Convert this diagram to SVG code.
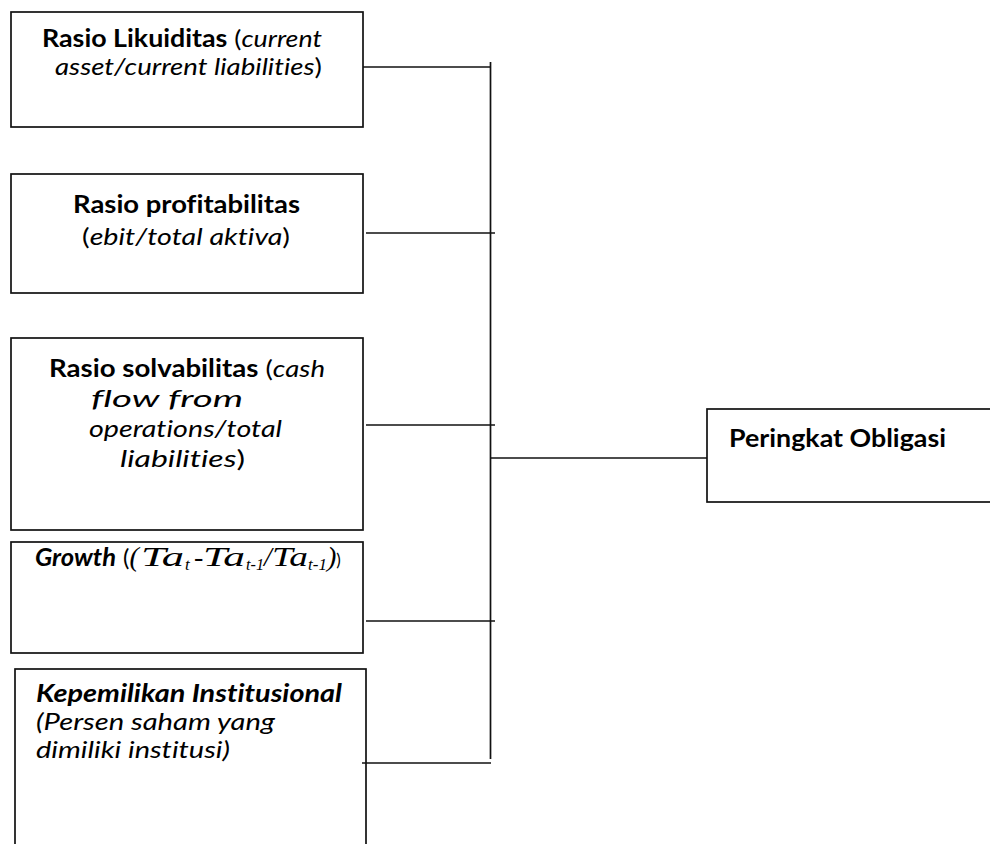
<svg xmlns="http://www.w3.org/2000/svg" width="990" height="844" viewBox="0 0 990 844">
<style>
  .box{fill:#fff;stroke:#111;stroke-width:1.7}
  .ln{stroke:#111;stroke-width:1.7;fill:none}
  text{font-family:Lato,"Liberation Sans",sans-serif;font-size:24px;fill:#000;font-variant-ligatures:none}
  .b{font-weight:700}
  .i{font-style:italic}
  .s{font-family:"Liberation Serif","Times New Roman",serif;font-style:italic;font-size:28px}
  .sub{font-family:"Liberation Serif","Times New Roman",serif;font-style:italic;font-size:17px}
</style>
<rect width="990" height="844" fill="#fff"/>

<g id="node-likuiditas">
  <rect class="box" x="11" y="12" width="352" height="115"/>
  <text x="42" y="46.5" textLength="280" lengthAdjust="spacingAndGlyphs"><tspan class="b">Rasio Likuiditas</tspan> (<tspan class="i">current</tspan></text>
  <text x="55" y="75" textLength="267" lengthAdjust="spacingAndGlyphs"><tspan class="i">asset/current liabilities</tspan>)</text>
</g>

<g id="node-profitabilitas">
  <rect class="box" x="11" y="174" width="352" height="119"/>
  <text class="b" x="73" y="213" textLength="227" lengthAdjust="spacingAndGlyphs">Rasio profitabilitas</text>
  <text x="82" y="245" textLength="208" lengthAdjust="spacingAndGlyphs">(<tspan class="i">ebit/total aktiva</tspan>)</text>
</g>

<g id="node-solvabilitas">
  <rect class="box" x="11" y="338" width="352" height="192"/>
  <text x="49" y="377" textLength="276" lengthAdjust="spacingAndGlyphs"><tspan class="b">Rasio solvabilitas</tspan> (<tspan class="i">cash</tspan></text>
  <text class="i" x="91" y="407" textLength="152" lengthAdjust="spacingAndGlyphs">flow from</text>
  <text class="i" x="89" y="437" textLength="193" lengthAdjust="spacingAndGlyphs">operations/total</text>
  <text x="120" y="467" textLength="125" lengthAdjust="spacingAndGlyphs"><tspan class="i">liabilities</tspan>)</text>
</g>

<g id="node-growth">
  <rect class="box" x="11" y="542" width="352" height="111"/>
  <text y="566"><tspan class="b i" x="35" textLength="81" lengthAdjust="spacingAndGlyphs">Growth</tspan><tspan x="123">(</tspan><tspan class="s" font-size="26">(</tspan><tspan class="s" x="141" textLength="43" lengthAdjust="spacingAndGlyphs">Ta</tspan><tspan class="sub" x="185" dy="4">t</tspan><tspan class="s" x="194" dy="-4">-</tspan><tspan class="s" x="203" textLength="42" lengthAdjust="spacingAndGlyphs">Ta</tspan><tspan class="sub" x="246" dy="4" textLength="18" lengthAdjust="spacingAndGlyphs">t-1</tspan><tspan class="s" x="264" dy="-4">/</tspan><tspan class="s" x="272" textLength="36" lengthAdjust="spacingAndGlyphs">Ta</tspan><tspan class="sub" dy="4">t-1</tspan><tspan class="s" dy="-4" font-size="22">)</tspan><tspan font-size="17">)</tspan></text>
</g>

<g id="node-kepemilikan">
  <rect class="box" x="15" y="669" width="351" height="200"/>
  <text class="b i" x="36" y="702" textLength="306" lengthAdjust="spacingAndGlyphs">Kepemilikan Institusional</text>
  <text class="i" x="36" y="729.5" textLength="239" lengthAdjust="spacingAndGlyphs">(Persen saham yang</text>
  <text class="i" x="36" y="757.5" textLength="194" lengthAdjust="spacingAndGlyphs">dimiliki institusi)</text>
</g>

<g id="node-peringkat">
  <rect class="box" x="707" y="409" width="300" height="93"/>
  <text class="b" x="729" y="447" textLength="217" lengthAdjust="spacingAndGlyphs">Peringkat Obligasi</text>
</g>

<g id="connectors">
  <line class="ln" x1="490.5" y1="62" x2="490.5" y2="759"/>
  <line class="ln" x1="363" y1="67" x2="491" y2="67"/>
  <line class="ln" x1="366" y1="233" x2="495" y2="233"/>
  <line class="ln" x1="366" y1="425" x2="495" y2="425"/>
  <line class="ln" x1="366" y1="621" x2="495" y2="621"/>
  <line class="ln" x1="362" y1="763" x2="491" y2="763"/>
  <line class="ln" x1="490.5" y1="458" x2="707" y2="458"/>
</g>
</svg>
